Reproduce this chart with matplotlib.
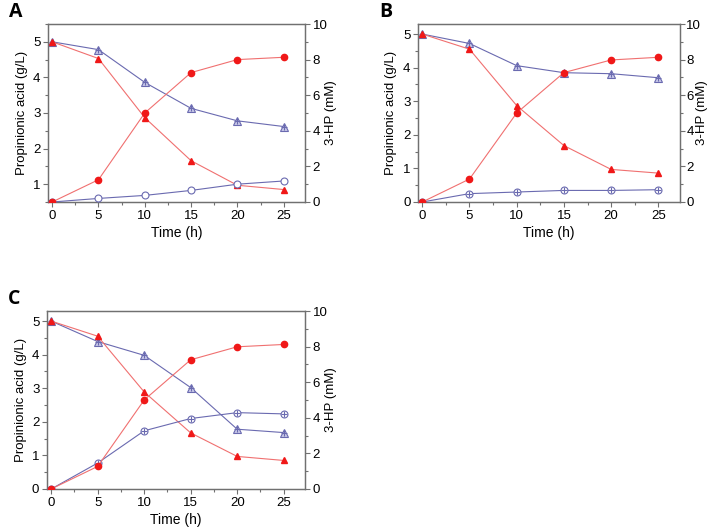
"""
Кинетика: пропионовая кислота и 3-HP, три панели (A, B, C)
"""
import matplotlib.pyplot as plt
from matplotlib.ticker import MultipleLocator

time_h = [0, 5, 10, 15, 20, 25]

# Панель A
a_prop_red = [5.0, 4.53, 2.87, 1.66, 0.97, 0.85]
a_hp_red = [0.0, 1.25, 5.0, 7.27, 8.0, 8.13]
a_prop_blue = [5.0, 4.78, 3.86, 3.13, 2.78, 2.62]
a_hp_blue = [0.0, 0.2, 0.37, 0.65, 1.0, 1.18]

# Панель B
b_prop_red = [5.0, 4.55, 2.87, 1.68, 0.97, 0.86]
b_hp_red = [0.0, 1.29, 5.0, 7.27, 7.98, 8.13]
b_prop_blue = [5.0, 4.72, 4.06, 3.85, 3.82, 3.7]
b_hp_blue = [0.0, 0.47, 0.56, 0.65, 0.65, 0.69]

# Панель C
c_prop_red = [5.0, 4.55, 2.89, 1.67, 0.97, 0.85]
c_hp_red = [0.0, 1.27, 5.0, 7.26, 7.99, 8.12]
c_prop_blue = [5.0, 4.39, 3.98, 3.02, 1.78, 1.68]
c_hp_blue = [0.0, 1.46, 3.27, 3.96, 4.29, 4.22]

RED = '#f01818'
RED_LINE = '#f07070'
BLUE = '#6a6ab0'
BLUE_FILL = '#c8c8e8'
GREY = '#707070'
TEXT_FONT = 'Liberation Sans'
LETTER_FONT = 'Open Sans'


def draw_panel(fig, rect, letter, prop_red, hp_red, prop_blue, hp_blue,
               ylim, yticks, right_label_x, right_pad=2, cross_circles=True):
    ax = fig.add_axes(rect)
    ax2 = ax.twinx()

    # пропионовая кислота (левая ось)
    ax.plot(time_h, prop_red, color=RED_LINE, lw=0.8, marker='^', ms=5,
            mfc=RED, mec=RED, zorder=4)
    ax.plot(time_h, prop_blue, color=BLUE, lw=0.8, marker='^', ms=6,
            mfc=BLUE_FILL, mec=BLUE, mew=0.8, zorder=3)
    ax.plot(time_h, prop_blue, ls='none', marker='+', ms=5, mec=BLUE,
            mew=0.8, zorder=3)

    # 3-HP (правая ось)
    ax2.plot(time_h, hp_red, color=RED_LINE, lw=0.8, marker='o', ms=4.5,
             mfc=RED, mec=RED, zorder=4)
    ax2.plot(time_h, hp_blue, color=BLUE, lw=0.8, marker='o', ms=5,
             mfc='white', mec=BLUE, mew=0.8, zorder=3)
    if cross_circles:
        ax2.plot(time_h, hp_blue, ls='none', marker='+', ms=5, mec=BLUE,
                 mew=0.8, zorder=3)

    ax.set_xlim(-0.45, 27.3)
    ax.set_ylim(*ylim)
    ax.set_yticks(yticks)
    ax.yaxis.set_minor_locator(MultipleLocator(0.5))
    ax.set_xticks(time_h)
    ax.xaxis.set_minor_locator(MultipleLocator(2.5))
    ax2.set_ylim(0, 10)
    ax2.set_yticks([0, 2, 4, 6, 8, 10])
    ax2.yaxis.set_minor_locator(MultipleLocator(1))

    for a in (ax, ax2):
        for sp in a.spines.values():
            sp.set_color(GREY)
            sp.set_linewidth(0.9)
        a.tick_params(which='major', direction='out', length=3.5, width=0.8,
                      colors=GREY, labelcolor='black', labelsize=9.5, pad=2)
        a.tick_params(which='minor', direction='out', length=2, width=0.8,
                      colors=GREY)
    ax2.tick_params(axis='y', which='major', pad=right_pad)
    for lab in ax.get_xticklabels() + ax.get_yticklabels() + ax2.get_yticklabels():
        lab.set_fontfamily(TEXT_FONT)

    ax.set_xlabel('Time (h)', fontfamily=TEXT_FONT, fontsize=10, labelpad=3)
    ax.set_ylabel('Propinionic acid (g/L)', fontfamily=TEXT_FONT,
                  fontsize=9.5)
    ax.yaxis.set_label_coords(-0.079, 0.5)
    ax2.set_ylabel('3-HP (mM)', fontfamily=TEXT_FONT, fontsize=9.5)
    ax2.yaxis.set_label_coords(right_label_x, 0.5)

    fig.text(rect[0] - 0.055, rect[1] + rect[3] + 0.022, letter,
             fontfamily=LETTER_FONT, fontweight='bold', fontsize=14,
             ha='left', va='center')


fig = plt.figure(figsize=(7.13, 5.31), dpi=100)

draw_panel(fig, [0.0673, 0.6196, 0.3604, 0.3352], 'A',
           a_prop_red, a_hp_red, a_prop_blue, a_hp_blue,
           (0.5, 5.5), [1, 2, 3, 4, 5], 1.078, cross_circles=False)
draw_panel(fig, [0.5863, 0.6196, 0.3675, 0.3352], 'B',
           b_prop_red, b_hp_red, b_prop_blue, b_hp_blue,
           (0, 5.3), [0, 1, 2, 3, 4, 5], 1.06, right_pad=1)
draw_panel(fig, [0.0659, 0.0791, 0.3620, 0.3352], 'C',
           c_prop_red, c_hp_red, c_prop_blue, c_hp_blue,
           (0, 5.3), [0, 1, 2, 3, 4, 5], 1.078)

fig.savefig('out.png', dpi=100)
plt.close(fig)
